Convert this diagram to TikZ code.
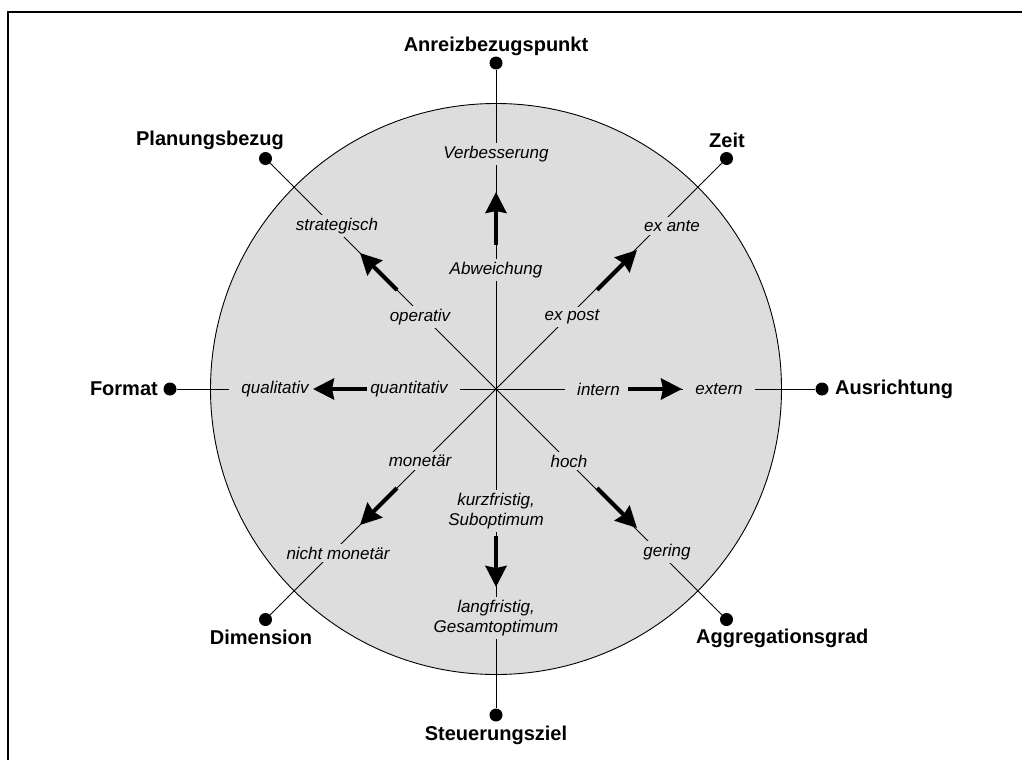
\documentclass[tikz,border=0pt]{standalone}
\usepackage{fontspec}
\setmainfont{Liberation Sans}
\usetikzlibrary{arrows.meta}
\definecolor{circfill}{RGB}{221,221,221}
\begin{document}
\begin{tikzpicture}[x=1pt,y=-1pt,
 axisline/.style={line width=0.9pt},
 inlabel/.style={fill=circfill, inner xsep=12pt, inner ysep=3pt, font=\fontsize{17}{20}\selectfont\itshape, align=center},
 outlabel/.style={font=\fontsize{20}{24}\selectfont\bfseries, inner sep=0pt},
 dot/.style={circle, fill=black, inner sep=0pt, minimum size=13pt},
 bigarrow/.style={line width=4pt, -{Stealth[length=21pt,width=21pt,inset=2pt]}}
]
\useasboundingbox (0,0) rectangle (1022,760);
\draw[line width=2.5pt] (8,760) -- (8,12) -- (1022,12);
\coordinate (c) at (496,389);
\draw[fill=circfill, line width=0.9pt] (c) circle (285.5pt);
% dots
\node[dot] (dN)  at (496,63) {};
\node[dot] (dNE) at (726.5,158.5) {};
\node[dot] (dE)  at (822,389) {};
\node[dot] (dSE) at (726.5,619.5) {};
\node[dot] (dS)  at (496,715) {};
\node[dot] (dSW) at (265.5,619.5) {};
\node[dot] (dW)  at (170,389) {};
\node[dot] (dNW) at (265.5,158.5) {};
\foreach \d in {dN,dNE,dE,dSE,dS,dSW,dW,dNW}{\draw[axisline] (c) -- (\d);}
% outer titles
\node[outlabel] (tN) at (496,46) {Anreizbezugspunkt};
\node[outlabel] (tNE) at (727,140) {Zeit};
\node[outlabel, anchor=west] (tE) at (835,389) {Ausrichtung};
\node[outlabel, anchor=west] (tSE) at (696,638) {Aggregationsgrad};
\node[outlabel] (tS) at (496,735) {Steuerungsziel};
\node[outlabel] (tSW) at (261,637) {Dimension};
\node[outlabel, anchor=east] (tW) at (158,389) {Format};
\node[outlabel] (tNW) at (210,140) {Planungsbezug};
% inner labels
\node[inlabel] (iN) at (496,270) {Abweichung};
\node[inlabel] (oN) at (496,154) {Verbesserung};
\node[inlabel] (iNE) at (572,317) {ex post};
\node[inlabel] (oNE) at (672,226) {ex ante};
\node[inlabel] (iE) at (598.5,389) {intern};
\node[inlabel] (oE) at (719,389) {extern};
\node[inlabel] (iSE) at (569,461) {hoch};
\node[inlabel] (oSE) at (667,552) {gering};
\node[inlabel] (iS) at (496,511) {kurzfristig,\\Suboptimum};
\node[inlabel] (oS) at (496,618) {langfristig,\\Gesamtoptimum};
\node[inlabel] (iSW) at (420,461) {monetär};
\node[inlabel] (oSW) at (338,553) {nicht monetär};
\node[inlabel] (iW) at (409,389) {quantitativ};
\node[inlabel] (oW) at (275,389) {qualitativ};
\node[inlabel] (iNW) at (420,317) {operativ};
\node[inlabel] (oNW) at (337,226) {strategisch};
% arrow end points
\coordinate (aN1) at (496,245); \coordinate (aN2) at (496,192);
\coordinate (aNE1) at (597,290); \coordinate (aNE2) at (637,250);
\coordinate (aE1) at (628,389); \coordinate (aE2) at (682,389);
\coordinate (aSE1) at (597,488); \coordinate (aSE2) at (637,528);
\coordinate (aS1) at (496,536); \coordinate (aS2) at (496,587);
\coordinate (aSW1) at (397,488); \coordinate (aSW2) at (360,525);
\coordinate (aW1) at (367,389); \coordinate (aW2) at (313,389);
\coordinate (aNW1) at (397,290); \coordinate (aNW2) at (360,253);
\foreach \a in {N,NE,E,SE,S,SW,W,NW}{\draw[bigarrow] (a\a1) -- (a\a2);}
\end{tikzpicture}
\end{document}
